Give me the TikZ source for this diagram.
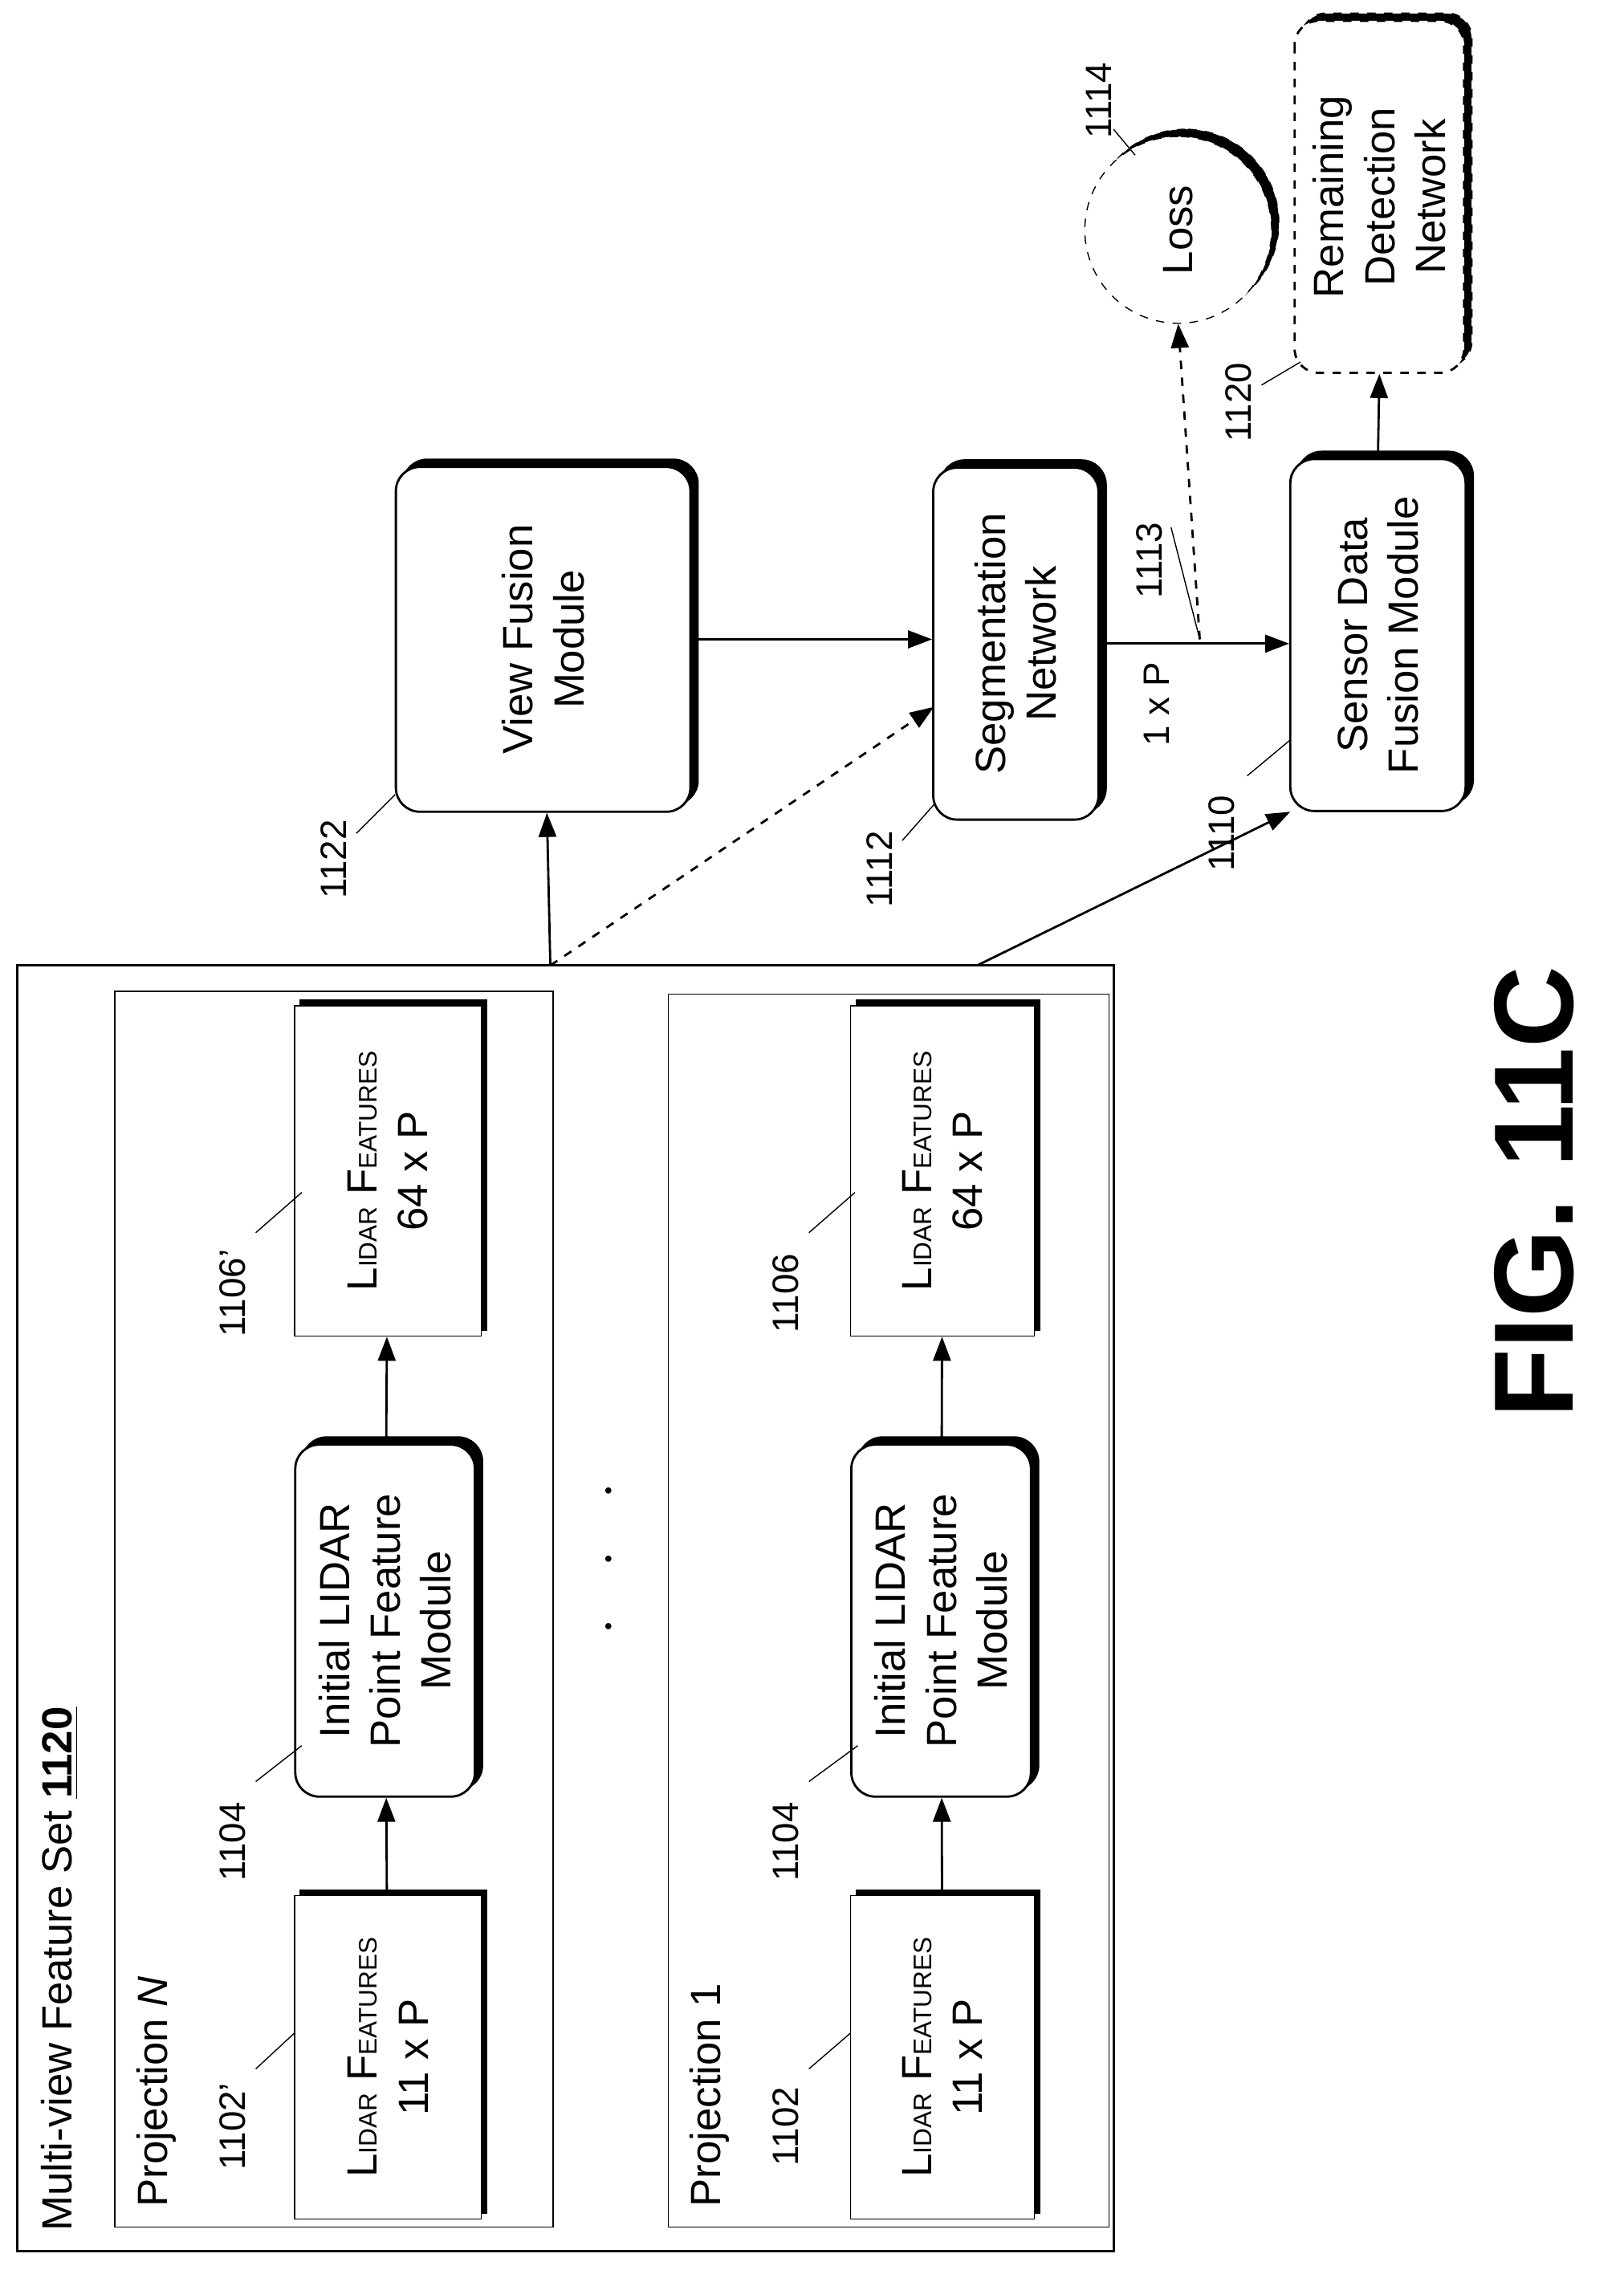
\documentclass[tikz,border=0pt]{standalone}
\usepackage{fontspec}
\setmainfont{Liberation Sans}
\usetikzlibrary{shadows,arrows.meta}
\newcommand\pu[1]{#1*0.0179cm}
\tikzset{
  box/.style={draw, thick, fill=white, rounded corners=3mm, align=center, rotate=90,
    copy shadow={shadow xshift=0.9mm, shadow yshift=0.9mm, draw=black, fill=black}},
  sqbox/.style={draw, thin, fill=white, align=center, rotate=90,
    copy shadow={shadow xshift=0.7mm, shadow yshift=0.7mm, draw=black, fill=black}},
  lbl/.style={rotate=90, font=\fontsize{13}{15}\selectfont},
  arr/.style={-{Triangle[length=3mm,width=2.2mm]}, thick},
}
\newcommand\lidar{L{\small IDAR} F{\small EATURES}}
\begin{document}
\begin{tikzpicture}[x=0.0179cm, y=-0.0179cm, font=\fontsize{15}{18}\selectfont]
    \useasboundingbox (0,0) rectangle (1130,1580);
    % containers
    \draw[thick] (12,672) rectangle (775,1567);
    \draw (80,690) rectangle (385,1550);
    \draw (465,692) rectangle (772,1550);
    \node[rotate=90, anchor=north west] at (22,1560) {Multi-view Feature Set \underline{\textbf{1120}}};
    \node[rotate=90, anchor=north west] at (88,1543) {Projection \textit{N}};
    \node[rotate=90, anchor=north west] at (473,1543) {Projection 1};
    % projection N
    \node[sqbox, minimum width=\pu{225}, minimum height=\pu{130}] (inN) at (270,1432) {\lidar\\11 x P};
    \node[box, minimum width=\pu{245}, minimum height=\pu{125}] (modN) at (268,1128) {Initial LIDAR\\Point Feature\\Module};
    \node[sqbox, minimum width=\pu{230}, minimum height=\pu{130}] (outN) at (270,815) {\lidar\\64 x P};
    \draw[arr] (inN) -- (modN);
    \draw[arr] (modN) -- (outN);
    % projection 1
    \node[sqbox, minimum width=\pu{225}, minimum height=\pu{128}] (in1) at (656,1432) {\lidar\\11 x P};
    \node[box, minimum width=\pu{245}, minimum height=\pu{125}] (mod1) at (655,1128) {Initial LIDAR\\Point Feature\\Module};
    \node[sqbox, minimum width=\pu{230}, minimum height=\pu{128}] (out1) at (656,815) {\lidar\\64 x P};
    \draw[arr] (in1) -- (mod1);
    \draw[arr] (mod1) -- (out1);
    \node[rotate=90, font=\fontsize{22}{22}\selectfont] (dots) at (425,1085) {$\cdot$\ \ \ $\cdot$\ \ \ $\cdot$};
    % reference numbers
    \node[lbl] (l1) at (162,1480) {1102'};
    \draw (178,1440) -- (205,1415);
    \node[lbl] (l2) at (162,1282) {1104};
    \draw (178,1240) -- (210,1215);
    \node[lbl] (l3) at (162,900) {1106'};
    \draw (178,858) -- (210,830);
    \node[lbl] (l4) at (547,1480) {1102};
    \draw (563,1440) -- (592,1415);
    \node[lbl] (l5) at (547,1282) {1104};
    \draw (563,1240) -- (597,1215);
    \node[lbl] (l6) at (547,900) {1106};
    \draw (563,858) -- (595,830);
    % right side
    \node[box, minimum width=\pu{240}, minimum height=\pu{205}] (vfm) at (378,445) {View Fusion\\Module};
    \node[box, minimum width=\pu{245}, minimum height=\pu{115}] (seg) at (707,448) {Segmentation\\Network};
    \node[box, minimum width=\pu{245}, minimum height=\pu{122}] (sdf) at (959,442) {Sensor Data\\Fusion Module};
    \node[circle, draw, dashed, thin, fill=white, minimum size=\pu{130}, rotate=90,
      copy shadow={shadow xshift=0.9mm, shadow yshift=0.9mm, draw=black, fill=black}] (loss) at (820,160) {Loss};
    \node[draw, dashed, thick, fill=white, rounded corners=3mm, align=center, rotate=90,
      minimum width=\pu{245}, minimum height=\pu{118},
      copy shadow={shadow xshift=0.9mm, shadow yshift=0.9mm, draw=black, fill=black, dashed}] (rdn) at (960,137) {Remaining\\Detection\\Network};
    \node[lbl] (l7) at (232,598) {1122};
    \draw (248,580) -- (275,553);
    \node[lbl] (l8) at (612,605) {1112};
    \draw (628,585) -- (650,560);
    \node[lbl] (l9) at (850,580) {1110};
    \draw (868,540) -- (898,515);
    \node[lbl] (l10) at (765,70) {1114};
    \draw (775,90) -- (790,108);
    \node[lbl] (l11) at (862,280) {1120};
    \draw (878,268) -- (905,252);
    \node[lbl] (l12) at (800,390) {1113};
    \coordinate (tap) at (835,445);
    \draw (815,367) -- (tap);
    \node[lbl] (l13) at (805,490) {1 x P};
    % connectors
    \coordinate (top) at (383,672);
    \coordinate (top2) at (680,672);
    \draw[arr] (top) -- (vfm);
    \draw[arr, dashed] (top) -- (650,492);
    \draw[arr] (top2) -- (898,565);
    \draw[arr] (vfm.south) -- (seg.north |- vfm.south);
    \draw[arr] (seg.south) -- (sdf.north |- seg.south);
    \draw[arr, dashed] (tap) -- (loss.west);
    \draw[arr] (sdf.east) -- (rdn.west);
    \node[rotate=90, font=\fontsize{40}{40}\selectfont\bfseries] (fig) at (1068,830) {FIG. 11C};
\end{tikzpicture}
\end{document}
